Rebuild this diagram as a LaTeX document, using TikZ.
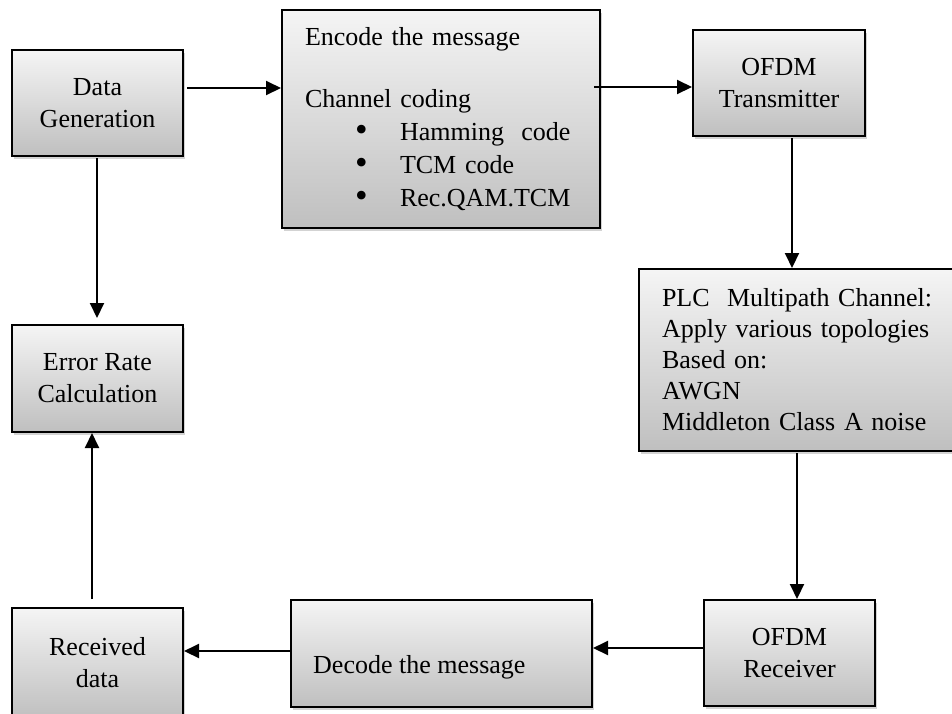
\documentclass[tikz,border=0pt]{standalone}
\usepackage{fontspec}
\setmainfont{Liberation Serif}
\usetikzlibrary{arrows.meta,shadows}

\newcommand{\bigbullet}{\raisebox{-1pt}{\fontsize{36}{33}\selectfont\textbullet}}

\begin{document}
\begin{tikzpicture}[x=1pt,y=-1pt,
    blk/.style={draw,line width=2pt,top color=gray!8,bottom color=gray!50,
      drop shadow={shadow xshift=2pt,shadow yshift=-2.5pt,opacity=0.35},
      font=\fontsize{26}{32}\selectfont,inner sep=0pt,align=center},
    arr/.style={line width=2pt,-{Triangle[length=15pt,width=14pt]}}]
  \clip (0,0) rectangle (952,713);
  % top row
  \node[blk,minimum width=171,minimum height=106] (gen) at (97.5,103) {Data\\Generation};
  \node[blk,minimum width=318,minimum height=218,text width=272,inner xsep=23pt,
    align=left,font=\fontsize{26}{33}\selectfont] (enc) at (441,119)
    {Encode the message\\[29pt]
     Channel coding\\
     \hspace*{50pt}\makebox[45pt][l]{\bigbullet}Hamming\ \ code\\
     \hspace*{50pt}\makebox[45pt][l]{\bigbullet}TCM code\\
     \hspace*{50pt}\makebox[45pt][l]{\bigbullet}Rec.QAM.TCM};
  \node[blk,minimum width=172,minimum height=106] (tx) at (779,83) {OFDM\\Transmitter};
  % channel
  \node[blk,minimum width=336,minimum height=182,text width=290,inner xsep=23pt,
    align=left,font=\fontsize{26}{31}\selectfont] (plc) at (807,360)
    {PLC\ \ Multipath Channel:\\
     Apply various topologies\\
     Based on:\\
     AWGN\\
     Middleton Class A noise};
  % left column and bottom row
  \node[blk,minimum width=171,minimum height=107] (err) at (97.5,378.5) {Error Rate\\Calculation};
  \node[blk,minimum width=171,minimum height=110] (recv) at (97.5,663) {Received\\data};
  \node[blk,minimum width=301,minimum height=107] (dec) at (441.5,653.5) {};
  \node[anchor=base west,font=\fontsize{26}{32}\selectfont,inner sep=0pt] (dectext) at (313,673) {Decode the message};
  \node[blk,minimum width=171,minimum height=106] (rx) at (789.5,653) {OFDM\\Receiver};
  % arrows
  \draw[arr,shorten <=3pt] (gen.east |- 0,88) -- (enc.west |- 0,88);
  \draw[arr,shorten <=-7pt] (enc.east |- 0,87) -- (tx.west |- 0,87);
  \draw[arr,shorten <=1pt] (tx.south -| 792,0) -- (plc.north -| 792,0);
  \draw[arr,shorten <=1pt] (plc.south -| 797,0) -- (rx.north -| 797,0);
  \draw[arr] (rx.west |- 0,648) -- (dec.east |- 0,648);
  \draw[arr] (dec.west |- 0,651) -- (recv.east |- 0,651);
  \draw[arr,shorten <=8pt] (recv.north -| 92,0) -- (err.south -| 92,0);
  \draw[arr,shorten <=1pt,shorten >=6pt] (gen.south -| 97,0) -- (err.north -| 97,0);
\end{tikzpicture}
\end{document}
